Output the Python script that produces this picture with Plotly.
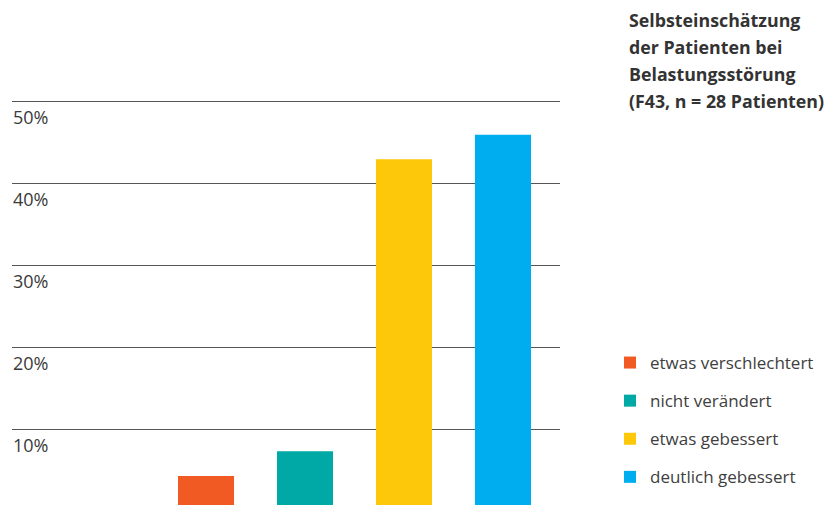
import plotly.graph_objects as go

# Self-assessment of patients with stress disorder (F43), share of patients in %
categories = ["etwas verschlechtert", "nicht verändert", "etwas gebessert", "deutlich gebessert"]
values = [4.4, 7.4, 43.0, 46.0]
colors = ["#F15A22", "#00A9A5", "#FDC70A", "#00AEEF"]
tick_values = [10, 20, 30, 40, 50]
tick_labels = ["10%", "20%", "30%", "40%", "50%"]
title_lines = ["Selbsteinschätzung", "der Patienten bei", "Belastungsstörung", "(F43, n = 28 Patienten)"]

W, H = 834, 505
ml, mr, mt, mb = 12, 274, 20, 0

fig = go.Figure()
for i, (cat, val, col) in enumerate(zip(categories, values, colors)):
    fig.add_trace(go.Bar(
        x=[cat], y=[val], name=cat,
        marker=dict(color=col, line=dict(width=0)),
        width=0.566, legendgroup=f"g{i}",
    ))

annotations = []
for v, t in zip(tick_values, tick_labels):
    annotations.append(dict(
        x=0, xref="paper", y=v, yref="y", text=t, showarrow=False,
        xanchor="left", yanchor="top", yshift=-1, xshift=-1,
        font=dict(family="Open Sans", size=18, color="#3a3a3a"),
    ))

plot_h = H - mt - mb
plot_w = W - ml - mr
for k, line in enumerate(title_lines):
    ypix = 20 + 27 * k
    annotations.append(dict(
        x=(629 - ml) / plot_w, xref="paper", y=(H - mb - ypix) / plot_h, yref="paper",
        text=f"<b>{line}</b>", showarrow=False, xanchor="left", yanchor="middle",
        xshift=-2, font=dict(family="Open Sans", size=17.8, color="#333333"),
    ))

fig.update_layout(
    width=W, height=H,
    margin=dict(l=ml, r=mr, t=mt, b=mb),
    paper_bgcolor="white", plot_bgcolor="white",
    barmode="overlay",
    showlegend=True,
    legend=dict(
        x=(610 - ml) / plot_w, xanchor="left",
        y=(H - mb - 345) / plot_h, yanchor="top",
        font=dict(family="Open Sans", size=17, color="#404040"),
        tracegroupgap=13, itemwidth=30, bgcolor="rgba(0,0,0,0)",
    ),
    xaxis=dict(
        type="category", categoryorder="array", categoryarray=categories,
        range=[-1.96, 3.576], showticklabels=False, showgrid=False,
        zeroline=False, showline=False, ticks="",
    ),
    yaxis=dict(
        range=[0.85, 0.85 + plot_h / 8.2], tickvals=tick_values,
        showticklabels=False, showgrid=True, gridcolor="#555555", gridwidth=1,
        zeroline=False, showline=False, ticks="",
    ),
    annotations=annotations,
)

fig.write_html("out.html")
